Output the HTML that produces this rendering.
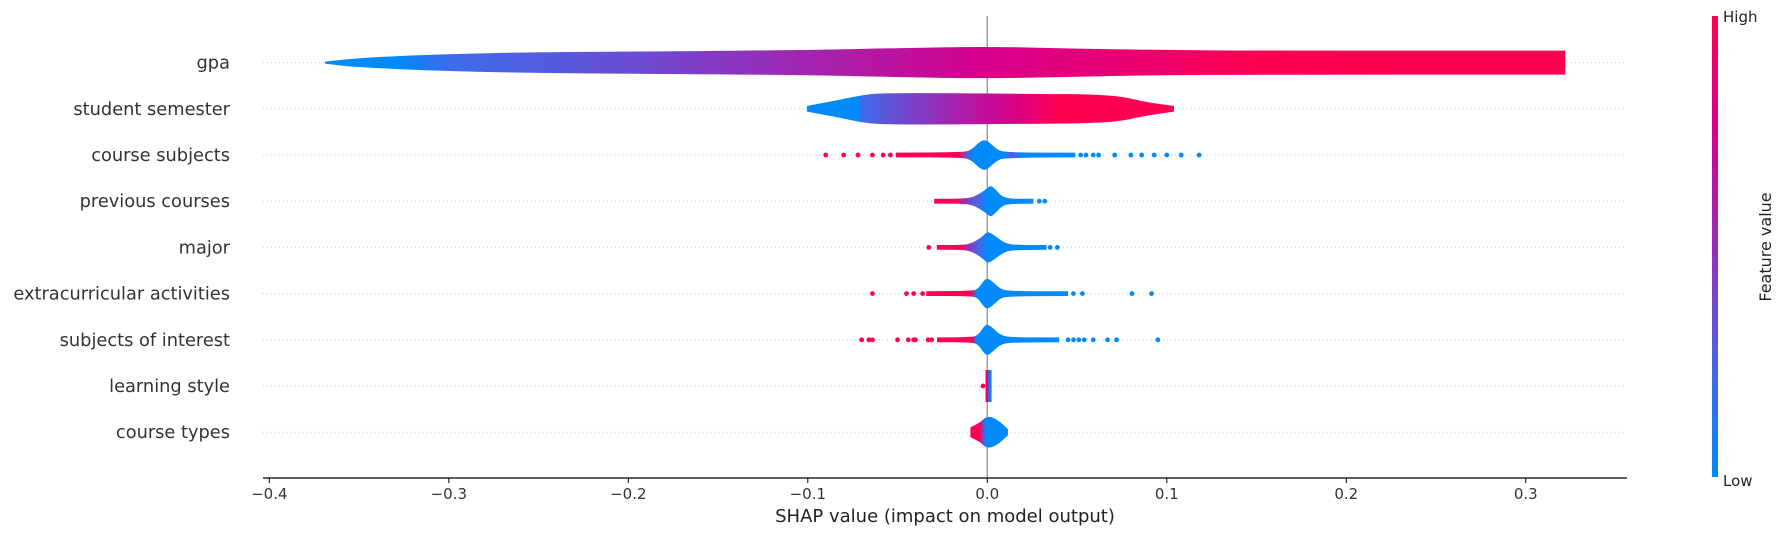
<!DOCTYPE html>
<html><head><meta charset="utf-8"><style>
html,body{margin:0;padding:0;background:#fff;}
svg{display:block;font-family:"DejaVu Sans","Liberation Sans",sans-serif;}
</style></head><body>
<svg id="chart" width="1785" height="536" xmlns="http://www.w3.org/2000/svg">
<defs id="defs"><linearGradient id="cbar" x1="0" y1="1" x2="0" y2="0"></linearGradient></defs>
<g id="grid"></g>
<line x1="987.3" y1="16" x2="987.3" y2="478" stroke="#999" stroke-width="1.4"/>
<g id="marks"></g>
<g id="ylabels"></g>
<g id="xaxis"></g>
<text x="945" y="522" font-size="18" text-anchor="middle" fill="#222">SHAP value (impact on model output)</text>
<rect x="1712" y="16" width="6" height="461" fill="url(#cbar)"/>
<text x="1723" y="22" font-size="15" fill="#222">High</text>
<text x="1723" y="486" font-size="15" fill="#222">Low</text>
<text transform="translate(1771,247) rotate(-90)" font-size="16" text-anchor="middle" fill="#222">Feature value</text>
</svg>
<script>
const features = ["gpa","student semester","course subjects","previous courses","major","extracurricular activities","subjects of interest","learning style","course types"];
const xTicks = [-0.4,-0.3,-0.2,-0.1,0.0,0.1,0.2,0.3];
const xTickLabels = ["\u22120.4","\u22120.3","\u22120.2","\u22120.1","0.0","0.1","0.2","0.3"];
// violin profiles: shap value positions and density (half width)
const profX = [
 [-0.369,-0.355,-0.33,-0.3,-0.25,-0.2,-0.1,-0.05,0,0.05,0.1,0.15,0.322],
 [-0.1005,-0.083,-0.071,-0.06,-0.02,0.02,0.07,0.088,0.104],
 [-0.051,-0.014,-0.009,-0.005,-0.002,0.001,0.005,0.0098,0.049],
 [-0.0296,-0.0136,-0.008,-0.003,0,0.002,0.005,0.008,0.0127,0.0257],
 [-0.0281,-0.0136,-0.009,-0.004,-0.001,0.0005,0.004,0.009,0.0145,0.033],
 [-0.034,-0.0085,-0.005,-0.002,0,0.003,0.007,0.012,0.045],
 [-0.028,-0.0085,-0.005,-0.002,0,0.003,0.007,0.0129,0.040],
 [-0.0010,0.0024],
 [-0.0094,-0.007,-0.004,-0.001,0.002,0.005,0.008,0.0115]
];
const profDensity = [
 [1,4,6.5,8.5,10.5,11,12.5,14.5,16,14,12.5,12,12],
 [2.8,8.7,13.3,15.7,15.7,15,14.3,6.7,2.8],
 [2.4,2.4,5,12,15.5,13,6,2.4,2.4],
 [2.4,2.4,4,9,13,15.8,11,5,2.4,2.4],
 [2.4,2.4,4,9,14,15.8,12,5,2.4,2.4],
 [2.4,2.4,5,13,15.5,12,5,2.4,2.4],
 [2.4,2.4,5,13,15.8,12,5,2.4,2.4],
 [16,16],
 [5,7,10,15,15.5,13,9,3]
];
// feature-value colour along each violin: [shap value, feature value 0..1]
const colorStops = [
 [[-0.369,0],[-0.33,0],[-0.3,0.2],[-0.2,0.35],[-0.1,0.55],[0,0.75],[0.1,0.9],[0.15,1]],
 [[-0.1,0],[-0.072,0],[-0.07,0.2],[-0.058,0.3],[-0.046,0.38],[-0.034,0.45],[-0.02,0.55],[0,0.68],[0.02,0.8],[0.04,1]],
 [[-0.051,1],[-0.016,1],[-0.011,0.3],[-0.008,0],[0.01,0],[0.013,0.3],[0.02,0],[0.049,0]],
 [[-0.0296,1],[-0.017,1],[-0.012,0.45],[-0.005,0.25],[0,0],[0.0257,0]],
 [[-0.028,1],[-0.015,1],[-0.010,0.45],[-0.004,0.2],[0,0],[0.033,0]],
 [[-0.034,1],[-0.009,1],[-0.006,0],[0.045,0]],
 [[-0.028,1],[-0.0085,1],[-0.006,0],[0.040,0]],
 [[-0.001,1],[0.0005,0.7],[0.0008,0],[0.0024,0]],
 [[-0.0094,1],[-0.0045,1],[-0.002,0.3],[-0.0005,0],[0.0115,0]]
];
const redDots = [[],[],[-0.090,-0.080,-0.072,-0.064,-0.058,-0.054],[],[-0.0326],[-0.064,-0.045,-0.041,-0.036],[-0.070,-0.066,-0.064,-0.050,-0.044,-0.041,-0.040,-0.033,-0.031],[-0.0024],[]];
const blueDots = [[],[],[0.052,0.055,0.059,0.062,0.071,0.080,0.086,0.093,0.100,0.108,0.118],[0.029,0.032],[0.035,0.039],[0.048,0.053,0.0806,0.0915],[0.045,0.048,0.051,0.054,0.059,0.067,0.072,0.095],[],[]];

const X0 = 987.3, XS = 1795, Y0 = 62.6, YS = 46.2;
const xs = v => X0 + v*XS;
const ys = i => Y0 + i*YS;
const NS = "http://www.w3.org/2000/svg";
const cm = [[0,[0,138,250]],[0.25,[75,100,230]],[0.5,[150,45,185]],[0.75,[215,0,140]],[1,[255,0,82]]];
function cmap(t){for(let k=1;k<cm.length;k++){if(t<=cm[k][0]){const a=cm[k-1],b=cm[k],f=(t-a[0])/(b[0]-a[0]);return "rgb("+a[1].map((c,j)=>Math.round(c+(b[1][j]-c)*f)).join(",")+")";}}return "rgb(255,0,82)";}
function mk(tag,attrs,parent){const e=document.createElementNS(NS,tag);for(const k in attrs)e.setAttribute(k,attrs[k]);parent.appendChild(e);return e;}
function smooth(pts){
  if(pts.length<3) return pts.map((p,k)=>(k?" L":" L")+p[0]+","+p[1]).join("");
  let d=" L"+pts[0][0]+","+pts[0][1];
  for(let k=1;k<pts.length-1;k++){
    const mx=(pts[k][0]+pts[k+1][0])/2, my=(pts[k][1]+pts[k+1][1])/2;
    d+=" Q"+pts[k][0]+","+pts[k][1]+" "+mx+","+my;
  }
  const l=pts[pts.length-1];
  return d+" L"+l[0]+","+l[1];
}
const defs=document.getElementById("defs"), grid=document.getElementById("grid"), marks=document.getElementById("marks"), yl=document.getElementById("ylabels"), xa=document.getElementById("xaxis");
const cb=document.getElementById("cbar");
cm.forEach(s=>mk("stop",{offset:s[0],"stop-color":cmap(s[0])},cb));

features.forEach((name,i)=>{
  const y=ys(i);
  const g=mk("line",{x1:263,x2:1627,y1:y,y2:y,stroke:"#ccc","stroke-width":1,"stroke-dasharray":"1,3"},grid);
  
  
  const t=mk("text",{x:230,y:y+6,"font-size":17.8,"text-anchor":"end",fill:"#333"},yl);
  t.textContent=name;
  
  
  const cs=colorStops[i], lo=cs[0][0], hi=cs[cs.length-1][0];
  const gr=mk("linearGradient",{id:"g"+i,gradientUnits:"userSpaceOnUse",x1:xs(lo),x2:xs(hi),y1:0,y2:0},defs);
  cs.forEach(s=>mk("stop",{offset:(s[0]-lo)/(hi-lo),"stop-color":cmap(s[1])},gr));
  const px=profX[i], pd=profDensity[i];
  const top=px.map((v,k)=>[xs(v),y-pd[k]]);
  const bot=px.map((v,k)=>[xs(v),y+pd[k]]).reverse();
  let d="M"+top[0][0]+","+top[0][1]+smooth(top)+smooth(bot)+" Z";
  const p=mk("path",{d:d,fill:"url(#g"+i+")"},marks);
  
  
  redDots[i].forEach(v=>{
    const c=mk("circle",{cx:xs(v),cy:y,r:2.4,fill:cmap(1)},marks);
    
    
  });
  blueDots[i].forEach(v=>{
    const c=mk("circle",{cx:xs(v),cy:y,r:2.4,fill:cmap(0)},marks);
    
    
  });
});
const ax=mk("line",{x1:263,x2:1627,y1:478,y2:478,stroke:"#000","stroke-width":1.3},xa);


xTicks.forEach((v,k)=>{
  const tk=mk("line",{x1:xs(v),x2:xs(v),y1:478,y2:483,stroke:"#000","stroke-width":1},xa);
  
  
  const tl=mk("text",{x:xs(v),y:499,"font-size":15,"text-anchor":"middle",fill:"#333"},xa);
  tl.textContent=xTickLabels[k];
  
  
});
</script>
</body></html>
